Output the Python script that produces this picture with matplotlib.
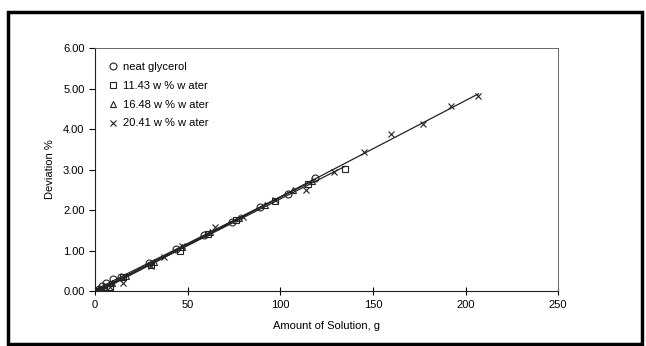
import matplotlib
matplotlib.use("Agg")
import matplotlib.pyplot as plt
import numpy as np
from matplotlib.lines import Line2D
from matplotlib.patches import Rectangle

plt.rcParams['font.family'] = ['Liberation Sans', 'DejaVu Sans']

# data (amount of solution in g, deviation in %)
glycerol_x = [0, 2, 4, 6, 10, 14, 29, 44, 59, 74, 89, 104, 119]
glycerol_y = [0, 0.05, 0.12, 0.20, 0.30, 0.35, 0.68, 1.03, 1.38, 1.70, 2.07, 2.40, 2.78]

w1143_x = [0, 3, 8, 15, 30, 46, 61, 76, 97, 115, 135]
w1143_y = [0, 0.02, 0.10, 0.35, 0.65, 1.00, 1.40, 1.76, 2.22, 2.65, 3.02]

w1648_x = [0, 2, 5, 9, 17, 32, 47, 62, 78, 92, 107, 117]
w1648_y = [0, 0.04, 0.10, 0.20, 0.38, 0.72, 1.08, 1.45, 1.80, 2.13, 2.50, 2.72]

w2041_x = [0, 3, 8, 15, 30, 37, 47, 65, 80, 97, 114, 129, 145, 160, 177, 192, 207]
w2041_y = [0, 0.03, 0.10, 0.20, 0.62, 0.84, 1.10, 1.58, 1.82, 2.25, 2.50, 2.95,
           3.43, 3.88, 4.12, 4.57, 4.82]

labels = ['neat glycerol', '11.43 w % w ater', '16.48 w % w ater', '20.41 w % w ater']
markers = ['o', 's', '^', 'x']

fig = plt.figure(figsize=(6.46, 3.46), dpi=100)
ax = fig.add_axes([0.147, 0.159, 0.717, 0.702])

series = [(glycerol_x, glycerol_y), (w1143_x, w1143_y),
          (w1648_x, w1648_y), (w2041_x, w2041_y)]
for (x, y), m in zip(series, markers):
    ax.plot(x, y, ls='none', marker=m, ms=5,
            mfc='none', mec='#222222', mew=0.8)
    # straight trend line through each series
    k, b = np.polyfit(x, y, 1)
    xs = np.array([0, max(x)])
    ax.plot(xs, k * xs + b, color='#222222', lw=0.9)

ax.set_xlim(0, 250)
ax.set_ylim(0, 6)
ax.set_xticks(range(0, 251, 50))
ax.set_yticks(range(0, 7))
ax.set_yticklabels(['%.2f' % v for v in range(0, 7)])
ax.tick_params(axis='x', direction='inout', length=6, width=0.8, labelsize=8)
ax.tick_params(axis='y', direction='out', length=4, width=0.8, labelsize=8)
ax.set_xlabel('Amount of Solution, g', fontsize=8, labelpad=8)
ax.set_ylabel('Deviation %', fontsize=8, labelpad=6)

for s in ['left', 'bottom']:
    ax.spines[s].set_color('#222222')
for s in ['top', 'right']:
    ax.spines[s].set_color('#666666')
    ax.spines[s].set_linewidth(0.7)

# legend with markers only
handles = [Line2D([], [], ls='none', marker=m, ms=5, mfc='none',
                  mec='#222222', mew=0.8) for m in markers]
ax.legend(handles, labels, loc='upper left', bbox_to_anchor=(0.0, 0.985),
          frameon=False, fontsize=8, handletextpad=0.1, labelspacing=0.8,
          handlelength=1.5)

# outer black frame
fig.patches.append(Rectangle((8 / 646, 2 / 346), 634 / 646, 332 / 346,
                             transform=fig.transFigure, fill=False,
                             ec='black', lw=2.5))

fig.savefig('out.png', dpi=100)
